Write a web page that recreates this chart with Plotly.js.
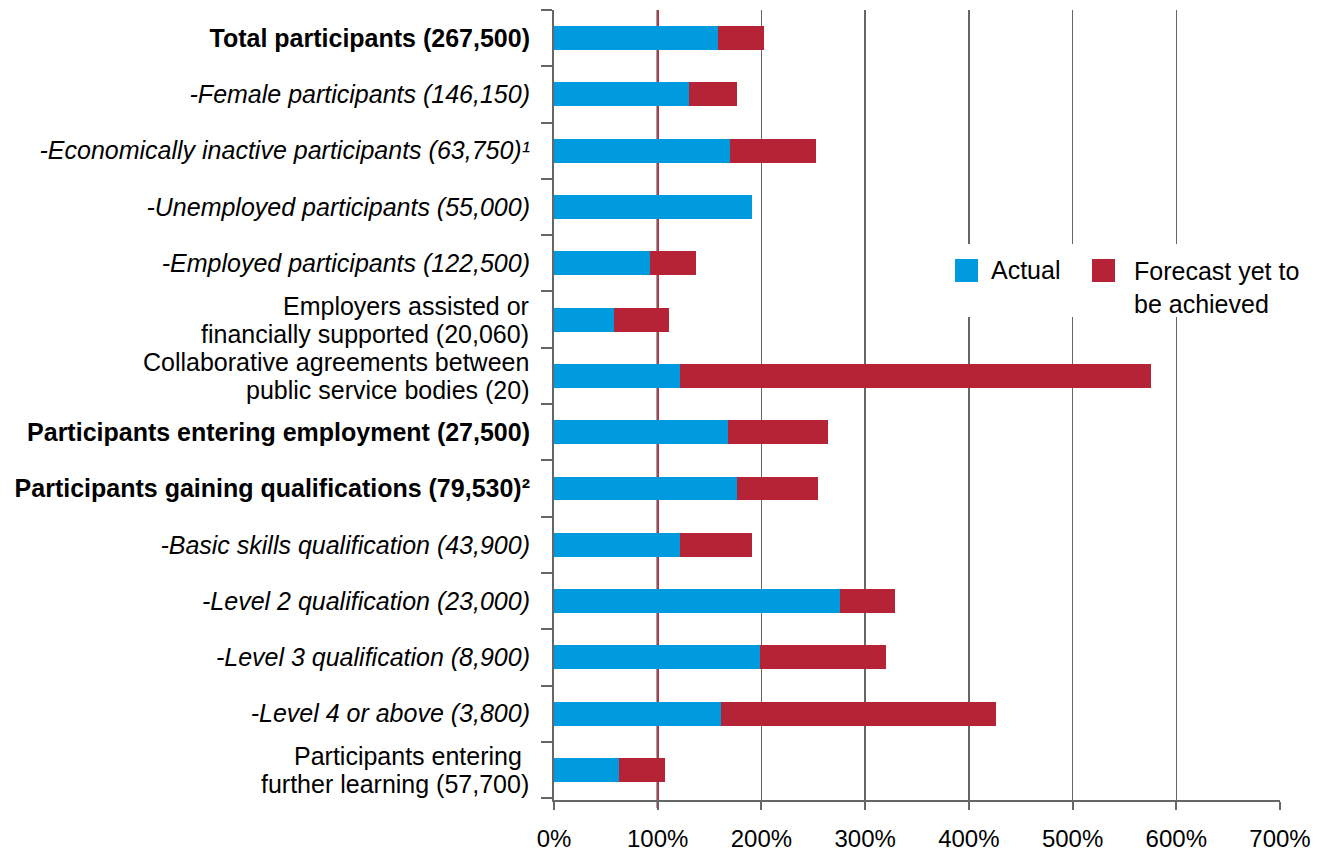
<!DOCTYPE html>
<html>
<head>
<meta charset="utf-8">
<script src="https://cdn.plot.ly/plotly-3.0.1.min.js"></script>
<style>html,body{margin:0;padding:0;background:#fff;}#chart{width:1320px;height:858px;}</style>
</head>
<body>
<div id="chart"></div>
<script>
// ---- data (percent of target achieved) ----
const categories = [
  "Total participants (267,500)",
  "-Female participants (146,150)",
  "-Economically inactive participants (63,750)\u00b9",
  "-Unemployed participants (55,000)",
  "-Employed participants (122,500)",
  "Employers assisted or\nfinancially supported (20,060)",
  "Collaborative agreements between\npublic service bodies (20)",
  "Participants entering employment (27,500)",
  "Participants gaining qualifications (79,530)\u00b2",
  "-Basic skills qualification (43,900)",
  "-Level 2 qualification (23,000)",
  "-Level 3 qualification (8,900)",
  "-Level 4 or above (3,800)",
  "Participants entering\u00a0\nfurther learning (57,700)"
];
const actual   = [158, 130, 169.6, 190.7, 92.5, 57.8, 121.4, 167.6, 176.3, 121.4, 275.5, 198.5, 161, 62.6];
const forecast = [44.5, 46.3, 82.8, 0, 44, 53, 454.6, 96.4, 78.7, 69.4, 53, 121.5, 264.8, 44.4];
const seriesNames = ["Actual", "Forecast yet to be achieved"];
const headlineRows = ["Total participants (267,500)", "Participants entering employment (27,500)", "Participants gaining qualifications (79,530)\u00b2"];
const targetLevel = 100;
const xTickVals = [0, 100, 200, 300, 400, 500, 600, 700];

// ---- styles ----
const BLUE = "#009ADE", RED = "#B72336", GREY = "#666666";
const FONT = "Arial, 'Liberation Sans', sans-serif";
const LABEL_SIZE = 25, LINE_STEP = 28;

function fmt(c, t) {
  if (t === undefined) t = c;
  if (headlineRows.includes(c)) return "<b>" + t + "</b>";
  if (c.startsWith("-")) return "<i>" + t + "</i>";
  return t;
}

const traces = [
  {type: "bar", orientation: "h", name: seriesNames[0], y: categories, x: actual,
   marker: {color: BLUE, line: {width: 0}}, showlegend: false, hoverinfo: "x+y"},
  {type: "bar", orientation: "h", name: seriesNames[1], y: categories, x: forecast,
   marker: {color: RED, line: {width: 0}}, showlegend: false, hoverinfo: "x+y"}
];

// legend helper positions (pixel -> paper)
const L = 554, R = 1280, T = 10, B = 800;
const px = v => (v - L) / (R - L);
const py = v => (B - v) / (B - T);

// multi-line category labels drawn line by line (tighter line spacing, like the original)
const labelAnnotations = [];
categories.forEach(c => {
  if (!c.includes("\n")) return;
  const lines = c.split("\n");
  lines.forEach((ln, i) => {
    labelAnnotations.push({
      xref: "paper", yref: "y", x: 0, y: c, xanchor: "right", yanchor: "middle",
      xshift: -23, yshift: ((lines.length - 1) / 2 - i) * LINE_STEP,
      text: fmt(c, ln), showarrow: false, align: "right",
      font: {size: LABEL_SIZE, family: FONT, color: "#000"}
    });
  });
});

const layout = {
  width: 1320, height: 858,
  margin: {l: L, r: 1320 - R, t: T, b: 858 - B, pad: 0},
  paper_bgcolor: "#fff", plot_bgcolor: "#fff",
  font: {family: FONT, size: 24, color: "#000"},
  barmode: "stack",
  bargap: 0.575,
  showlegend: false,
  xaxis: {
    range: [0, 700], tickmode: "array", tickvals: xTickVals,
    ticktext: xTickVals.map(v => v + "%"),
    showgrid: true, gridcolor: GREY, gridwidth: 1.5,
    zeroline: false,
    showline: true, linecolor: GREY, linewidth: 2,
    ticks: "outside", ticklen: 8, tickwidth: 2, tickcolor: GREY,
    tickfont: {size: 24, family: FONT, color: "#000"},
    ticklabelstandoff: 8
  },
  yaxis: {
    type: "category", autorange: "reversed",
    tickmode: "array", tickvals: categories,
    ticktext: categories.map(c => c.includes("\n") ? "" : fmt(c)),
    tickson: "boundaries",
    showgrid: false, zeroline: false,
    showline: true, linecolor: GREY, linewidth: 2,
    ticks: "outside", ticklen: 11, tickwidth: 2, tickcolor: GREY,
    tickfont: {size: LABEL_SIZE, family: FONT, color: "#000"},
    ticklabelstandoff: 17
  },
  shapes: [
    {type: "line", xref: "x", yref: "paper", x0: targetLevel, x1: targetLevel, y0: -0.01, y1: 1,
     line: {color: RED, width: 2.5}, layer: "between"},
    // legend background
    {type: "rect", xref: "paper", yref: "paper", x0: px(935), x1: px(1315), y0: py(317), y1: py(244),
     fillcolor: "#fff", line: {width: 0}, layer: "above"},
    {type: "rect", xref: "paper", yref: "paper", x0: px(955), x1: px(978), y0: py(282), y1: py(259),
     fillcolor: BLUE, line: {width: 0}, layer: "above"},
    {type: "rect", xref: "paper", yref: "paper", x0: px(1092), x1: px(1115), y0: py(282), y1: py(259),
     fillcolor: RED, line: {width: 0}, layer: "above"}
  ],
  annotations: labelAnnotations.concat([
    {xref: "paper", yref: "paper", x: px(989), y: py(270), xanchor: "left", yanchor: "middle",
     text: seriesNames[0], showarrow: false, align: "left", font: {size: 25, family: FONT, color: "#000"}},
    {xref: "paper", yref: "paper", x: px(1132), y: py(255), xanchor: "left", yanchor: "top",
     text: "Forecast yet to<br>be achieved", showarrow: false, align: "left",
     font: {size: 25, family: FONT, color: "#000"}}
  ])
};

Plotly.newPlot("chart", traces, layout, {displayModeBar: false, staticPlot: true});
</script>
</body>
</html>
